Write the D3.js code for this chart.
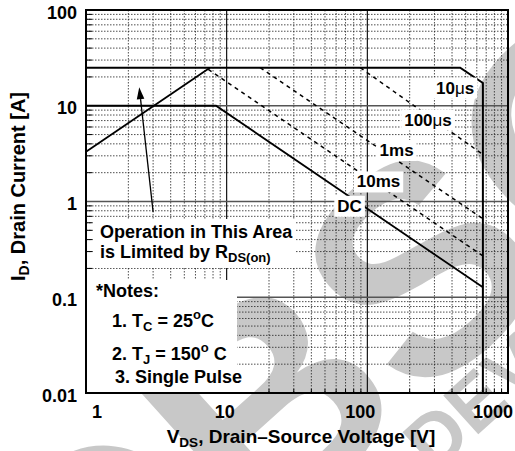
<!DOCTYPE html>
<html><head><meta charset="utf-8">
<script src="https://cdn.jsdelivr.net/npm/d3@7"></script>
<style>
body{margin:0;background:#fff}
svg{display:block;font-family:"Liberation Sans",Arial,Helvetica,sans-serif;font-weight:bold}
</style>
</head><body><svg id="c" width="515" height="451"></svg>
<script>
// ---------- data ----------
const xTickValues = [1, 10, 100, 1000];
const xTickLabels = ["1", "10", "100", "1000"];
const yTickValues = [0.01, 0.1, 1, 10, 100];
const yTickLabels = ["0.01", "0.1", "1", "10", "100"];

const rdsV = [1, 7.6];            const rdsI = [3.3, 25];
const us10V = [1, 457, 663, 663]; const us10I = [25, 25, 17.3, 0.01];
const us100V = [89, 663];         const us100I = [25, 3.1];
const ms1V = [17.3, 663];         const ms1I = [25, 0.66];
const ms10V = [7.4, 663];         const ms10I = [24, 0.27];
const dcV = [1, 8.4, 663];        const dcI = [10, 10, 0.127];

const curveLabels = ["10μs", "100μs", "1ms", "10ms", "DC"];
const labelV = [421, 270, 161.5, 120, 74.8];
const labelI = [15.3, 7.1, 3.41, 1.6, 0.89];

const arrowV = [3.0, 2.39];
const arrowI = [0.78, 15.6];

// ---------- setup ----------
const svg = d3.select("#c");
const L = 86, R = 508, T = 10, B = 393;
const x = d3.scaleLog().domain([1, 1000]).range([L, R]);
const y = d3.scaleLog().domain([0.01, 100]).range([B, T]);

// ---------- watermark ----------
const wm = svg.append("g").attr("fill", "#c8c8c8");
const F1 = 295;
wm.append("text").attr("transform", "translate(266,402) rotate(-42)")
  .attr("x", -1.139 * F1).attr("y", 0.358 * F1).style("font-size", F1 + "px").text("OBSOLETE");
const F2 = 76;
wm.append("text").attr("transform", "translate(436,436) rotate(-42)")
  .attr("x", -0.361 * F2).attr("y", 0.358 * F2).style("font-size", F2 + "px").text("DEVICE");

// ---------- grid ----------
const minorX = [], minorY = [];
[1, 10, 100].forEach(d => { for (let k = 2; k <= 9; k++) minorX.push(k * d); });
[0.01, 0.1, 1, 10].forEach(d => { for (let k = 2; k <= 9; k++) minorY.push(k * d); });
const grid = svg.append("g");
grid.selectAll(".mx").data(minorX).join("line")
  .attr("x1", d => x(d)).attr("x2", d => x(d)).attr("y1", T).attr("y2", B)
  .attr("stroke", "#222").attr("stroke-width", 0.8).attr("stroke-dasharray", "1.5,1.5");
grid.selectAll(".my").data(minorY).join("line")
  .attr("y1", d => y(d)).attr("y2", d => y(d)).attr("x1", L).attr("x2", R)
  .attr("stroke", "#222").attr("stroke-width", 0.8).attr("stroke-dasharray", "1.5,1.5");
grid.selectAll(".Mx").data([10, 100]).join("line")
  .attr("x1", d => x(d)).attr("x2", d => x(d)).attr("y1", T).attr("y2", B)
  .attr("stroke", "#000").attr("stroke-width", 1.1);
grid.selectAll(".My").data([0.1, 1, 10]).join("line")
  .attr("y1", d => y(d)).attr("y2", d => y(d)).attr("x1", L).attr("x2", R)
  .attr("stroke", "#555").attr("stroke-width", 1.4);

// ---------- ticks (inside) ----------
const ticks = svg.append("g").attr("stroke", "#000").attr("stroke-width", 1);
ticks.selectAll(".tl").data(minorY).join("line")
  .attr("x1", L).attr("x2", L + 6).attr("y1", d => y(d)).attr("y2", d => y(d));
ticks.selectAll(".tb").data(minorX).join("line")
  .attr("y1", B).attr("y2", B - 4).attr("x1", d => x(d)).attr("x2", d => x(d));

// ---------- note boxes ----------
svg.append("rect").attr("x", 93).attr("y", 219).attr("width", 202).attr("height", 49).attr("fill", "#fff");
svg.append("rect").attr("x", L + 1).attr("y", 280).attr("width", 150).attr("height", B - 281).attr("fill", "#fff");

// ---------- curves ----------
const line = d3.line().x(d => x(d[0])).y(d => y(d[1]));
const zip = (a, b) => a.map((v, i) => [v, b[i]]);
const curves = svg.append("g").attr("fill", "none").attr("stroke", "#000");
curves.append("path").attr("d", line(zip(rdsV, rdsI))).attr("stroke-width", 1.8);
curves.append("path").attr("d", line(zip(us10V, us10I))).attr("stroke-width", 2);
curves.append("path").attr("d", line(zip(dcV, dcI))).attr("stroke-width", 1.8);
[[us100V, us100I], [ms1V, ms1I], [ms10V, ms10I]].forEach(([v, i]) => {
  curves.append("path").attr("d", line(zip(v, i))).attr("stroke-width", 1.5).attr("stroke-dasharray", "4,4");
});

// ---------- curve labels ----------
const lg = svg.append("g");
curveLabels.forEach((t, k) => {
  const g = lg.append("g");
  const txt = g.append("text").attr("x", x(labelV[k])).attr("y", y(labelI[k]))
    .attr("text-anchor", "middle").attr("dominant-baseline", "central")
    .style("font-size", "17px").attr("fill", "#000");
  const m = t.indexOf("μ");
  if (m >= 0) {
    txt.append("tspan").text(t.slice(0, m));
    txt.append("tspan").style("font-weight", "normal").text("μ");
    txt.append("tspan").text(t.slice(m + 1));
  } else txt.text(t);
  const bb = txt.node().getBBox();
  g.insert("rect", "text").attr("x", bb.x - 3).attr("y", bb.y - 1).attr("width", bb.width + 6).attr("height", bb.height + 2).attr("fill", "#fff");
});

// ---------- arrow ----------
const ax0 = x(arrowV[0]), ay0 = y(arrowI[0]), ax1 = x(arrowV[1]), ay1 = y(arrowI[1]);
const ang = Math.atan2(ay1 - ay0, ax1 - ax0);
const hl = 12, hw = 3.8;
const bx = ax1 - hl * Math.cos(ang), by = ay1 - hl * Math.sin(ang);
svg.append("line").attr("x1", ax0).attr("y1", ay0).attr("x2", bx).attr("y2", by).attr("stroke", "#000").attr("stroke-width", 1.3);
svg.append("polygon").attr("points", [
  [ax1, ay1],
  [bx + hw * Math.sin(ang), by - hw * Math.cos(ang)],
  [bx - hw * Math.sin(ang), by + hw * Math.cos(ang)]
].map(p => p.join(",")).join(" ")).attr("fill", "#000");

// ---------- note texts ----------
const notes = svg.append("g").style("font-size", "18px").attr("fill", "#000");
notes.append("text").attr("x", 100).attr("y", 238).text("Operation in This Area");
const t2 = notes.append("text").attr("x", 100).attr("y", 258);
t2.append("tspan").text("is Limited by R");
t2.append("tspan").attr("dy", 4).style("font-size", "13px").text("DS(on)");
notes.append("text").attr("x", 96).attr("y", 297).text("*Notes:");
const n1 = notes.append("text").attr("x", 112).attr("y", 327);
n1.append("tspan").text("1. T");
n1.append("tspan").attr("dy", 4).style("font-size", "13px").text("C");
n1.append("tspan").attr("dy", -4).text(" = 25");
n1.append("tspan").attr("dy", -8).style("font-size", "13px").text("o");
n1.append("tspan").attr("dy", 8).text("C");
const n2 = notes.append("text").attr("x", 112).attr("y", 360);
n2.append("tspan").text("2. T");
n2.append("tspan").attr("dy", 4).style("font-size", "13px").text("J");
n2.append("tspan").attr("dy", -4).text(" = 150");
n2.append("tspan").attr("dy", -8).style("font-size", "13px").text("o");
n2.append("tspan").attr("dy", 8).text(" C");
notes.append("text").attr("x", 115).attr("y", 383).text("3. Single Pulse");

// ---------- border ----------
svg.append("rect").attr("x", L).attr("y", T).attr("width", R - L).attr("height", B - T)
  .attr("fill", "none").attr("stroke", "#000").attr("stroke-width", 2);

// ---------- tick labels ----------
const yl = svg.append("g").style("font-size", "18px").attr("fill", "#000");
yl.selectAll("text").data(yTickValues).join("text")
  .attr("x", 77).attr("y", d => y(d) + 2.5).attr("text-anchor", "end").attr("dominant-baseline", "central")
  .text((d, i) => yTickLabels[i]);
const xOff = [11, -2, -7, -15];
const xl = svg.append("g").style("font-size", "18px").attr("fill", "#000");
xl.selectAll("text").data(xTickValues).join("text")
  .attr("x", (d, i) => x(d) + xOff[i]).attr("y", 418).attr("text-anchor", "middle")
  .text((d, i) => xTickLabels[i]);

// ---------- axis titles ----------
const xt = svg.append("text").attr("x", 301).attr("y", 443).attr("text-anchor", "middle").style("font-size", "19px");
xt.append("tspan").text("V");
xt.append("tspan").attr("dy", 4).style("font-size", "13.5px").text("DS");
xt.append("tspan").attr("dy", -4).text(", Drain–Source Voltage [V]");
const yt = svg.append("text").attr("transform", "translate(25,186.5) rotate(-90)").attr("text-anchor", "middle").style("font-size", "20px");
yt.append("tspan").text("I");
yt.append("tspan").attr("dy", 4).style("font-size", "14px").text("D");
yt.append("tspan").attr("dy", -4).text(", Drain Current [A]");
</script>
</body></html>
